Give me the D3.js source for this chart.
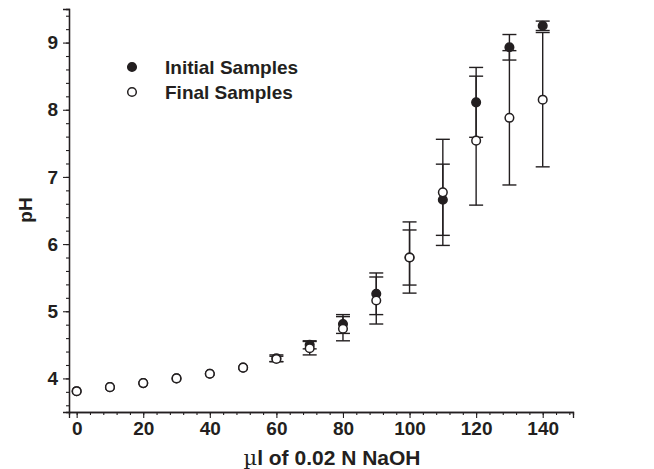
<!DOCTYPE html>
<html>
<head>
<meta charset="utf-8">
<script src="https://cdn.jsdelivr.net/npm/d3@7"></script>
<style>
  body { margin: 0; background: #fff; }
  svg { display: block; font-family: "Liberation Sans", Arial, sans-serif; }
</style>
</head>
<body>
<svg id="phPlot" width="654" height="469"></svg>
<script>
// volumes of NaOH added (µl)
const volumes = [0, 10, 20, 30, 40, 50, 60, 70, 80, 90, 100, 110, 120, 130, 140];
// initial samples: mean pH and error
const initialPH = [3.81, 3.87, 3.93, 4.00, 4.07, 4.16, 4.30, 4.50, 4.81, 5.26, 5.80, 6.66, 8.11, 8.93, 9.25];
const initialErr = [0, 0, 0, 0, 0, 0, 0.05, 0.06, 0.14, 0.31, 0.41, 0.53, 0.52, 0.19, 0.07];
// final samples
const finalPH = [3.81, 3.87, 3.93, 4.00, 4.07, 4.16, 4.29, 4.45, 4.74, 5.16, 5.80, 6.77, 7.54, 7.88, 8.15];
const finalErr = [0, 0, 0, 0, 0, 0, 0.04, 0.10, 0.18, 0.35, 0.53, 0.79, 0.96, 1.00, 1.00];

const xMajorTicks = [0, 20, 40, 60, 80, 100, 120, 140];
const yMajorTicks = [4, 5, 6, 7, 8, 9];

const svg = d3.select("#phPlot");
const margin = { top: 9, right: 81, bottom: 57, left: 69 };
const width = +svg.attr("width") - margin.left - margin.right;
const height = +svg.attr("height") - margin.top - margin.bottom;

const x = d3.scaleLinear().domain([-2.3, 149.1]).range([0, width]);
const y = d3.scaleLinear().domain([3.5, 9.5]).range([height, 0]);

const g = svg.append("g").attr("transform", `translate(${margin.left}, ${margin.top})`);

const ink = "#231f20";
const fontSize = "19px";

// minor ticks first, majors drawn on top
const xMinor = d3.range(0, 149, 4);
const yMinor = d3.range(3.6, 9.45, 0.2);

const xAxisMinor = g.append("g")
    .attr("transform", `translate(0, ${height})`)
    .call(d3.axisBottom(x).tickValues(xMinor).tickSize(3).tickFormat(""));
const xAxis = g.append("g")
    .attr("transform", `translate(0, ${height})`)
    .call(d3.axisBottom(x).tickValues(xMajorTicks).tickSize(6).tickPadding(4).tickFormat(d3.format("d")));
const yAxisMinor = g.append("g")
    .call(d3.axisLeft(y).tickValues(yMinor).tickSize(3).tickFormat(""));
const yAxis = g.append("g")
    .call(d3.axisLeft(y).tickValues(yMajorTicks).tickSize(6).tickPadding(5).tickFormat(d3.format("d")));

[xAxisMinor, xAxis, yAxisMinor, yAxis].forEach((a) => {
    a.selectAll("path").attr("stroke", ink).attr("stroke-width", 1.3);
    a.selectAll("line").attr("stroke", ink).attr("stroke-width", 1.1);
});
[xAxis, yAxis].forEach((a) => {
    a.selectAll("text")
        .attr("fill", ink)
        .style("font-size", fontSize)
        .style("font-weight", "bold");
});

// axis titles
const xTitle = svg.append("text")
    .attr("x", 332)
    .attr("y", 465)
    .attr("text-anchor", "middle")
    .attr("fill", ink)
    .style("font-size", "21px")
    .style("font-weight", "bold");
xTitle.append("tspan")
    .style("font-family", "'DejaVu Serif', 'Liberation Serif', serif")
    .style("font-weight", "normal")
    .text("µ");
xTitle.append("tspan").text("l of 0.02 N NaOH");

svg.append("text")
    .attr("transform", "translate(32, 210) rotate(-90)")
    .attr("text-anchor", "middle")
    .attr("fill", ink)
    .style("font-size", fontSize)
    .style("font-weight", "bold")
    .text("pH");

// build series
const series = [
    { name: "Initial Samples", values: initialPH, errs: initialErr, fill: ink },
    { name: "Final Samples", values: finalPH, errs: finalErr, fill: "#fff" },
].map((s) => ({
    ...s,
    points: volumes.map((v, i) => ({ vol: v, ph: s.values[i], err: s.errs[i] })),
}));

const capHalf = 7;

// error bars
series.forEach((s) => {
    const bars = g.append("g").selectAll("g")
        .data(s.points.filter((d) => d.err > 0))
        .enter()
        .append("g")
        .attr("stroke", ink)
        .attr("stroke-width", 1.4);
    bars.append("line")
        .attr("x1", (d) => x(d.vol)).attr("x2", (d) => x(d.vol))
        .attr("y1", (d) => y(d.ph - d.err)).attr("y2", (d) => y(d.ph + d.err));
    bars.append("line")
        .attr("x1", (d) => x(d.vol) - capHalf).attr("x2", (d) => x(d.vol) + capHalf)
        .attr("y1", (d) => y(d.ph + d.err)).attr("y2", (d) => y(d.ph + d.err));
    bars.append("line")
        .attr("x1", (d) => x(d.vol) - capHalf).attr("x2", (d) => x(d.vol) + capHalf)
        .attr("y1", (d) => y(d.ph - d.err)).attr("y2", (d) => y(d.ph - d.err));
});

// points
series.forEach((s) => {
    g.append("g").selectAll("circle")
        .data(s.points)
        .enter()
        .append("circle")
        .attr("cx", (d) => x(d.vol))
        .attr("cy", (d) => y(d.ph))
        .attr("r", 4.3)
        .attr("fill", s.fill)
        .attr("stroke", ink)
        .attr("stroke-width", 1.5);
});

// legend
const legend = svg.append("g");
series.forEach((s, i) => {
    legend.append("circle")
        .attr("cx", 132)
        .attr("cy", 67 + i * 25)
        .attr("r", 4.3)
        .attr("fill", s.fill)
        .attr("stroke", ink)
        .attr("stroke-width", 1.5);
    legend.append("text")
        .attr("x", 165)
        .attr("y", 74 + i * 25)
        .attr("fill", ink)
        .style("font-size", fontSize)
        .style("font-weight", "bold")
        .text(s.name);
});
</script>
</body>
</html>
